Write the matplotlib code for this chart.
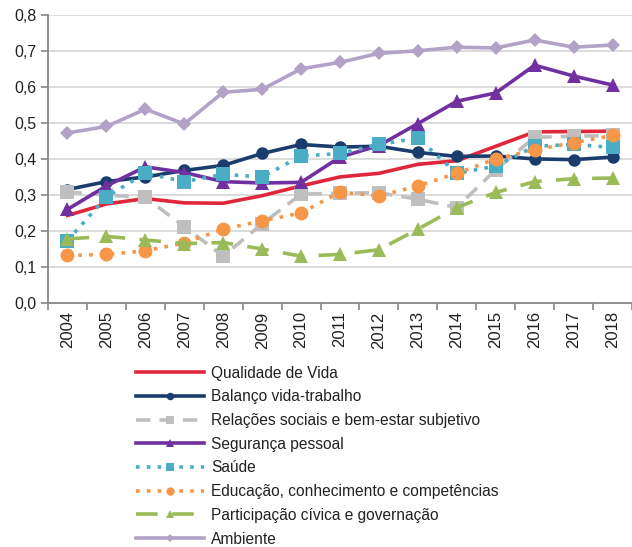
import numpy as np
import matplotlib
matplotlib.use("Agg")
import matplotlib.pyplot as plt
from matplotlib.ticker import FixedLocator, FuncFormatter

years = [str(y) for y in range(2004, 2019)]

qualidade = [0.243, 0.275, 0.290, 0.278, 0.277, 0.298, 0.325, 0.350, 0.360, 0.385, 0.395, 0.435, 0.475, 0.476, 0.477]
balanco = [0.315, 0.337, 0.350, 0.368, 0.382, 0.415, 0.440, 0.433, 0.435, 0.418, 0.407, 0.408, 0.400, 0.398, 0.405]
relacoes = [0.308, 0.300, 0.293, 0.212, 0.130, 0.220, 0.302, 0.305, 0.306, 0.288, 0.265, 0.370, 0.460, 0.463, 0.465]
seguranca = [0.260, 0.325, 0.378, 0.362, 0.337, 0.333, 0.335, 0.405, 0.437, 0.498, 0.560, 0.583, 0.660, 0.630, 0.605]
saude = [0.173, 0.295, 0.360, 0.337, 0.357, 0.350, 0.408, 0.415, 0.440, 0.458, 0.360, 0.380, 0.435, 0.440, 0.432]
educacao = [0.132, 0.135, 0.145, 0.167, 0.205, 0.228, 0.250, 0.308, 0.297, 0.325, 0.360, 0.400, 0.425, 0.445, 0.465]
participacao = [0.178, 0.185, 0.175, 0.165, 0.168, 0.150, 0.130, 0.135, 0.148, 0.205, 0.265, 0.307, 0.337, 0.345, 0.347]
ambiente = [0.472, 0.490, 0.538, 0.497, 0.585, 0.593, 0.650, 0.668, 0.693, 0.700, 0.710, 0.708, 0.730, 0.710, 0.716]

series = [
    ("Qualidade de Vida", qualidade, "#E0263A", "-", None, 0),
    ("Balanço vida-trabalho", balanco, "#1B3D6E", "-", "o", 9),
    ("Relações sociais e bem-estar subjetivo", relacoes, "#BFBFBF", (0, (4, 2.5)), "s", 10),
    ("Segurança pessoal", seguranca, "#7030A0", "-", "^", 10),
    ("Saúde", saude, "#4BACC6", (0, (1, 2)), "s", 10),
    ("Educação, conhecimento e competências", educacao, "#F79646", (0, (1, 2)), "o", 10),
    ("Participação cívica e governação", participacao, "#9BBB59", (0, (6, 4)), "^", 10),
    ("Ambiente", ambiente, "#B3A2C7", "-", "D", 7),
]

plt.rcParams['font.family'] = ['Liberation Sans', 'DejaVu Sans']

fig = plt.figure(figsize=(6.32, 5.47), dpi=100)
ax = fig.add_axes([0.076, 0.446, 0.924, 0.527])

x = np.arange(len(years))
handles = []
for name, vals, color, ls, mk, ms in series:
    line, = ax.plot(x, vals, color=color, linestyle=ls, linewidth=2.6,
                    marker=mk, markersize=ms, markeredgewidth=0, label=name,
                    clip_on=False)
    handles.append(line)

ax.set_xlim(-0.5, len(years) - 0.5)
ax.set_ylim(0, 0.8)
ax.set_yticks(np.arange(0, 0.81, 0.1))
ax.yaxis.set_major_formatter(FuncFormatter(lambda v, p: f"{v:.1f}".replace(".", ",")))
ax.set_xticks(x)
ax.set_xticklabels(years, rotation=90)
ax.xaxis.set_minor_locator(FixedLocator(np.arange(-0.5, len(years), 1.0)))
ax.tick_params(axis='x', which='major', length=0, labelsize=12, pad=6, colors='#222222')
ax.tick_params(axis='x', which='minor', length=5, color='#888888', width=1.2)
ax.tick_params(axis='y', length=5, color='#888888', width=1.2, labelsize=11.5,
               labelcolor='#222222')
ax.grid(axis='y', color='#D9D9D9', linewidth=1.3)
ax.set_axisbelow(True)
for s in ['top', 'right']:
    ax.spines[s].set_visible(False)
for s in ['left', 'bottom']:
    ax.spines[s].set_color('#888888')
    ax.spines[s].set_linewidth(1.3)

leg = fig.legend(handles=handles, loc='upper left', bbox_to_anchor=(0.205, 0.343),
                 frameon=False, fontsize=11.2, handlelength=4.4, handletextpad=0.45,
                 labelspacing=0.56, markerscale=0.6, numpoints=1,
                 borderaxespad=0)
for t in leg.get_texts():
    t.set_color('#222222')

fig.savefig("out.png", dpi=100)
